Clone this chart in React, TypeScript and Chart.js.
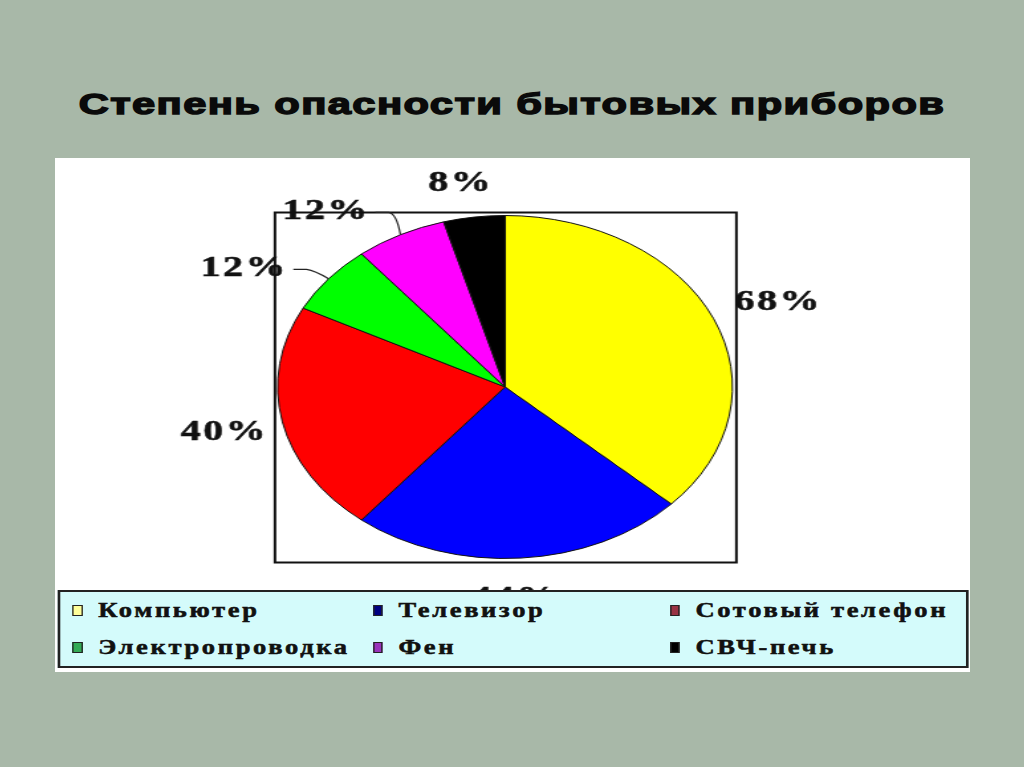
import { useEffect, useRef } from "react";
import { Chart, registerables } from "chart.js";

Chart.register(...registerables);

// Data
const categories = ["Компьютер", "Телевизор", "Сотовый телефон", "Электропроводка", "Фен", "СВЧ-печь"];
const values = [68, 44, 40, 12, 12, 8];
const pieLabels = ["68%", "44%", "40%", "12%", "12%", "8%"];

// Styles
const sliceColors = ["#ffff00", "#0000ff", "#ff0000", "#00ff00", "#ff00ff", "#000000"];
const legendColors = ["#ffff99", "#000080", "#993344", "#33aa55", "#9933bb", "#000000"];
const labelNudge: [number, number][] = [[2, -10], [-5, 25], [4, 7], [-19, -1], [-16, -10], [-8, -19]];
const leaderSlices = [3, 4];

const STRETCH = 1.326; // the original picture is stretched horizontally
const PANEL_W = 915 / STRETCH;
const PANEL_H = 514;

const overlayPlugin = {
  id: "overlay",
  afterDatasetsDraw(chart: any) {
    const { ctx } = chart;
    const arcs = chart.getDatasetMeta(0).data;
    if (!arcs.length) return;
    const first = arcs[0].getProps(["x", "y", "outerRadius"], true);
    const R = first.outerRadius;
    ctx.save();
    // plot frame around the pie
    ctx.strokeStyle = "#111";
    ctx.lineWidth = 2;
    ctx.strokeRect(first.x - R - 2, first.y - R - 3, 2 * R + 5, 2 * R + 7);

    ctx.font = "bold 30px 'Liberation Serif'";
    ctx.letterSpacing = "2px";
    ctx.fillStyle = "#111";
    ctx.textBaseline = "middle";
    arcs.forEach((arc: any, i: number) => {
      const { x, y, startAngle, endAngle, outerRadius } = arc.getProps(
        ["x", "y", "startAngle", "endAngle", "outerRadius"],
        true
      );
      const mid = (startAngle + endAngle) / 2;
      const c = Math.cos(mid);
      const s = Math.sin(mid);
      const g = 15;
      const ax = x + (outerRadius + g) * c + labelNudge[i][0];
      const ay = y + (outerRadius + g) * s + labelNudge[i][1];
      ctx.textAlign = c > 0.3 ? "left" : c < -0.3 ? "right" : "center";
      ctx.strokeStyle = "#111";
      ctx.lineWidth = 0.6;
      ctx.fillText(pieLabels[i], ax, ay);
      ctx.strokeText(pieLabels[i], ax, ay);
      if (leaderSlices.includes(i)) {
        const ex = x + outerRadius * c;
        const ey = y + outerRadius * s;
        ctx.beginPath();
        ctx.lineWidth = 1.2;
        ctx.strokeStyle = "#222";
        ctx.moveTo(ax + 4, ay + 1);
        ctx.lineTo(ax + 14, ay + 1);
        ctx.quadraticCurveTo(ax + 20, ay + 2, ex, ey);
        ctx.stroke();
      }
    });
    ctx.restore();
  },
};

function PieChart() {
  const canvasRef = useRef<HTMLCanvasElement | null>(null);
  const chartRef = useRef<Chart | null>(null);

  useEffect(() => {
    if (!canvasRef.current) return;
    if (chartRef.current) chartRef.current.destroy();
    chartRef.current = new Chart(canvasRef.current, {
      type: "pie",
      data: {
        labels: categories,
        datasets: [
          {
            data: values,
            backgroundColor: sliceColors,
            borderColor: "#111",
            borderWidth: 1,
          },
        ],
      },
      options: {
        responsive: true,
        maintainAspectRatio: false,
        animation: false,
        rotation: 0,
        layout: { padding: { top: 57, bottom: 113, left: 139.4, right: PANEL_W - 539.4 } },
        plugins: {
          legend: { display: false },
          tooltip: { enabled: false },
        },
      },
      plugins: [overlayPlugin],
    });
    return () => {
      if (chartRef.current) {
        chartRef.current.destroy();
        chartRef.current = null;
      }
    };
  }, []);

  return (
    <div style={{ position: "absolute", left: 0, top: 0, width: PANEL_W, height: PANEL_H }}>
      <canvas ref={canvasRef} />
    </div>
  );
}

const legendCols = [9.6, 236, 460];
const legendRows = [6, 43];

function Legend() {
  return (
    <div
      style={{
        position: "absolute",
        left: 1.5,
        top: 432,
        width: 687,
        height: 78,
        boxSizing: "border-box",
        border: "2px solid #222",
        background: "#d4fbfb",
      }}
    >
      {categories.map((name, i) => (
        <div
          key={name}
          style={{
            position: "absolute",
            left: legendCols[i % 3],
            top: legendRows[Math.floor(i / 3)],
            height: 24,
            display: "flex",
            alignItems: "center",
            whiteSpace: "nowrap",
          }}
        >
          <span
            style={{
              display: "inline-block",
              width: 5.5,
              height: 9,
              background: legendColors[i],
              border: "1.5px solid #222",
              marginRight: 12,
            }}
          />
          <span
            style={{
              font: "bold 20px 'Liberation Serif'",
              letterSpacing: "2px",
              color: "#111",
              WebkitTextStroke: "0.5px #111",
            }}
          >
            {name}
          </span>
        </div>
      ))}
    </div>
  );
}

export default function App() {
  return (
    <div
      style={{
        position: "fixed",
        left: 0,
        top: 0,
        width: 1024,
        height: 767,
        background: "#a8b8a8",
        overflow: "hidden",
      }}
    >
      <div
        style={{
          position: "absolute",
          left: 0,
          top: 87,
          width: 1024,
          textAlign: "center",
          font: "bold 30px 'Liberation Sans'",
          color: "#0a0a0a",
          letterSpacing: "1px",
          WebkitTextStroke: "1.4px #0a0a0a",
          transform: "scaleX(1.39)",
          transformOrigin: "512px 0",
          whiteSpace: "nowrap",
        }}
      >
        Степень опасности бытовых приборов
      </div>
      <div
        style={{
          position: "absolute",
          left: 55,
          top: 158,
          width: 915,
          height: PANEL_H,
          background: "#ffffff",
        }}
      >
        <div
          style={{
            position: "absolute",
            left: 0,
            top: 0,
            width: PANEL_W,
            height: PANEL_H,
            transform: `scaleX(${STRETCH})`,
            transformOrigin: "0 0",
          }}
        >
          <PieChart />
          <Legend />
        </div>
      </div>
    </div>
  );
}
